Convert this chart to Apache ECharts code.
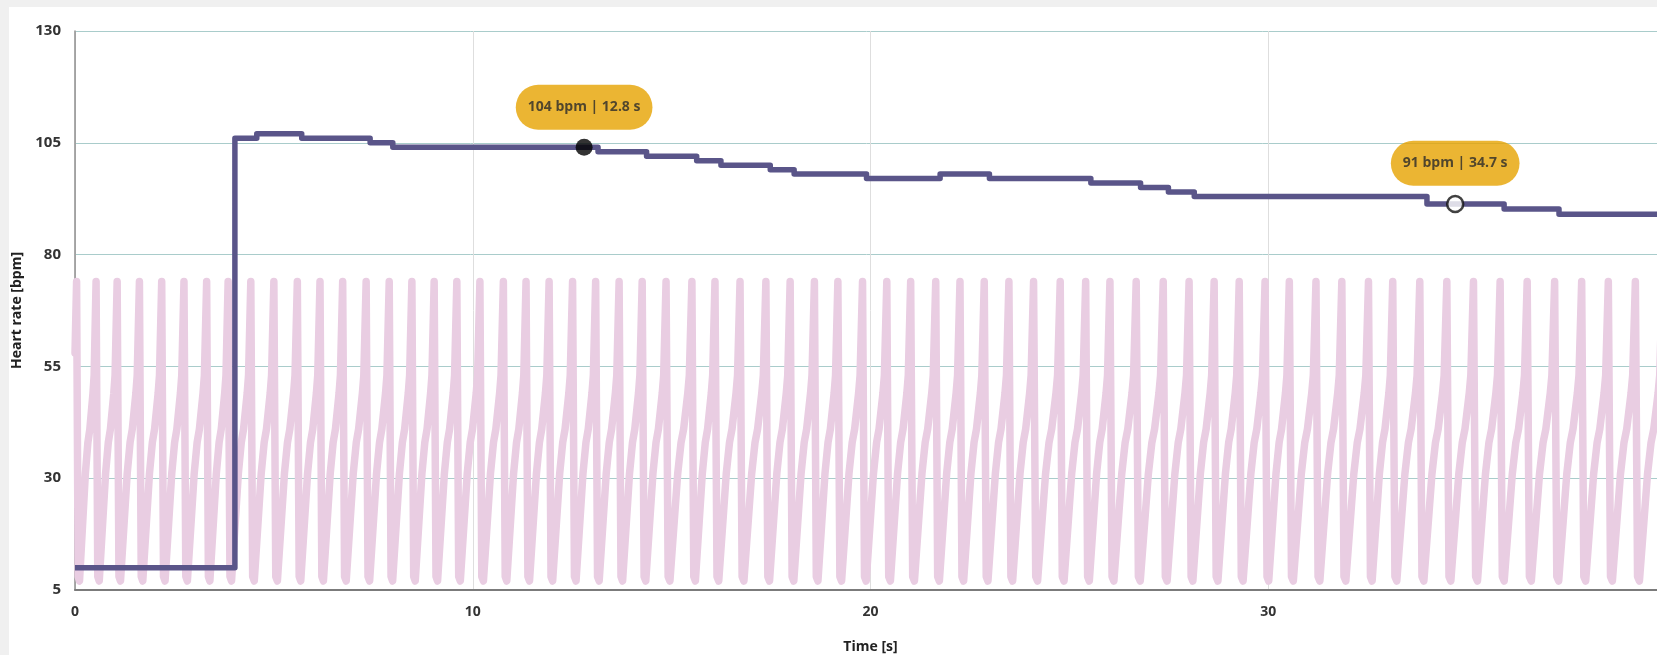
<!DOCTYPE html>
<html>
<head>
<meta charset="utf-8">
<script src="https://cdn.jsdelivr.net/npm/echarts@6/dist/echarts.min.js"></script>
<style>
html, body { margin: 0; padding: 0; background: #f0f0f0; }
#panel { position: absolute; left: 9px; top: 7px; width: 1648px; height: 648px; background: #fff; }
#main { position: absolute; left: 0; top: 0; width: 1657px; height: 655px; }
</style>
</head>
<body>
<div id="panel"></div>
<div id="main"></div>
<script>
// heart rate steps: value holds from time until next time
var hrTimes = [0, 4.02, 4.57, 5.70, 7.42, 7.99, 13.15, 14.37, 15.63, 16.24, 17.48, 18.08, 19.90, 21.75, 22.99, 25.54, 26.79, 27.49, 28.14, 33.99, 35.93, 37.31, 40];
var hrValues = [10, 106, 107, 106, 105, 104, 103, 102, 101, 100, 99, 98, 97, 98, 97, 96, 95, 94, 93, 91.3, 90.2, 89, 89];

// pulse peaks (seconds)
var beatTimes = [0.04, 0.53, 1.06, 1.62, 2.18, 2.74, 3.31, 3.85, 4.42, 5.00, 5.59, 6.16, 6.73, 7.32, 7.90,
  8.47, 9.03, 9.60, 10.18, 10.77, 11.34, 11.92, 12.51, 13.09, 13.68, 14.26, 14.86, 15.51, 16.09,
  16.72, 17.37, 17.98, 18.59, 19.18, 19.80, 20.41, 21.01, 21.64, 22.25, 22.86, 23.48, 24.10,
  24.77, 25.41, 26.02, 26.68, 27.36, 28.01, 28.64, 29.27, 29.92, 30.53, 31.20, 31.85, 32.52,
  33.13, 33.81, 34.49, 35.16, 35.83, 36.51, 37.20, 37.88, 38.55, 39.23, 39.91];
// one beat of the trace: [fraction of the way to next peak, value]
var beatShape = [[0, 74], [0.08, 8], [0.15, 7], [0.45, 31], [0.58, 38], [0.68, 41], [0.84, 49], [0.9, 53]];

// highlighted readings
var markers = [[12.8, 104], [34.7, 91.3]];

var wave = [[0, 58]];
for (var i = 0; i < beatTimes.length - 1; i++) {
  var t0 = beatTimes[i], p = beatTimes[i + 1] - t0;
  beatShape.forEach(function (s) { wave.push([t0 + s[0] * p, s[1]]); });
}
wave.push([beatTimes[beatTimes.length - 1], 74]);

var hr = hrTimes.map(function (t, i) { return [t, hrValues[i]]; });

var myChart = echarts.init(document.getElementById('main'));
var font = '"Open Sans", "Noto Sans", sans-serif';

var option = {
  animation: false,
  grid: { left: 75, top: 31, right: -9, bottom: 65, outerBoundsMode: 'none', containLabel: false },
  xAxis: {
    type: 'value', min: 0, max: 40, interval: 10,
    name: 'Time [s]', nameLocation: 'middle', nameGap: 50,
    nameTextStyle: { fontFamily: font, fontWeight: 'bold', fontSize: 14, color: '#222' },
    axisLine: { show: true, onZero: false, lineStyle: { color: '#7b7b7b', width: 2 } },
    axisTick: { show: false },
    axisLabel: { margin: 15, showMaxLabel: false, fontFamily: font, fontWeight: 'bold', fontSize: 14, color: '#333' },
    splitLine: { show: true, lineStyle: { color: '#dedede', width: 1 } }
  },
  yAxis: {
    type: 'value', min: 5, max: 130, interval: 25,
    name: 'Heart rate [bpm]', nameLocation: 'middle', nameGap: 43,
    nameTextStyle: { fontFamily: font, fontWeight: 'bold', fontSize: 14, color: '#222' },
    axisLine: { show: true, lineStyle: { color: '#8e8e8e', width: 1.5 } },
    axisTick: { show: false },
    axisLabel: { margin: 14, fontFamily: font, fontWeight: 'bold', fontSize: 15, color: '#333' },
    splitLine: { show: true, lineStyle: { color: '#a9cccb', width: 1 } }
  },
  series: [{
    type: 'line',
    data: wave,
    showSymbol: false,
    silent: true,
    z: 1,
    lineStyle: { color: '#e9cde2', width: 7.5, cap: 'round', join: 'round' }
  }, {
    type: 'line',
    data: hr,
    step: 'end',
    showSymbol: false,
    z: 2,
    lineStyle: { color: '#5a5589', width: 5.5, join: 'round' }
  }, {
    type: 'scatter',
    z: 3,
    data: [
      { value: markers[0], symbolSize: 17, itemStyle: { color: '#000' } },
      { value: markers[1], symbolSize: 16, itemStyle: { color: '#fff', borderColor: '#111', borderWidth: 2.5 } }
    ],
    label: {
      show: true, position: 'top', distance: 9,
      backgroundColor: '#e6a300', borderRadius: 23, padding: [13, 12],
      fontFamily: font, fontWeight: 'bold', fontSize: 14, lineHeight: 19, color: '#2a2a2a',
      formatter: function (p) { return Math.round(p.value[1]) + ' bpm | ' + p.value[0].toFixed(1) + ' s'; }
    }
  }]
};

myChart.setOption(option);
</script>
</body>
</html>
